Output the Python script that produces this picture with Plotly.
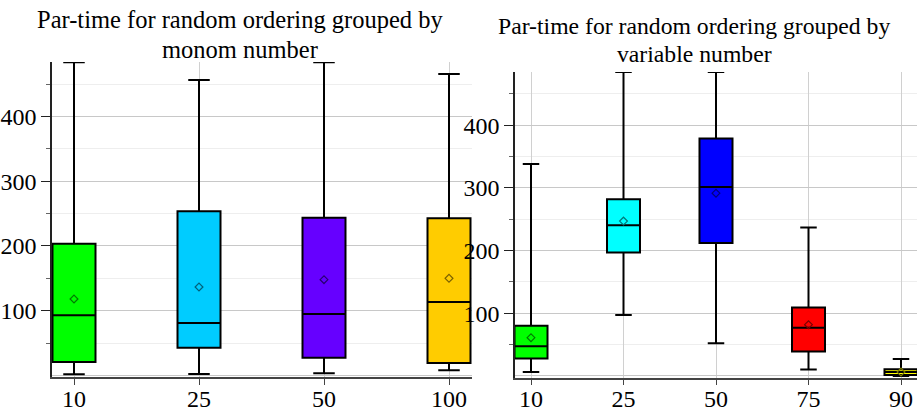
import plotly.graph_objects as go

# ---- data ----
left_cats = ["10", "25", "50", "100"]
left_lower = [1.7, 2.0, 3.2, 7.9]
left_q1 = [20.7, 42.8, 27.4, 19.2]
left_median = [92.9, 81.0, 94.9, 113.4]
left_q3 = [203.6, 253.6, 243.8, 242.8]
left_upper = [484.0, 456.6, 484.0, 465.8]
left_mean = [118.0, 136.6, 148.0, 150.0]
left_colors = ["#00ff00", "#00ccff", "#6600ff", "#ffcc00"]
left_mean_colors = ["#007a00", "#00607a", "#2a0070", "#7a6000"]

right_cats = ["10", "25", "50", "75", "90"]
right_lower = [6.2, 97.2, 52.1, 10.0, 0.0]
right_q1 = [27.6, 196.8, 212.0, 38.8, 1.4]
right_median = [47.2, 240.3, 301.6, 77.0, 6.0]
right_q3 = [80.2, 282.0, 379.0, 109.0, 10.5]
right_upper = [338.0, 485.0, 485.0, 237.0, 27.0]
right_mean = [61.0, 247.0, 291.6, 81.8, 6.0]
right_colors = ["#00ff00", "#00ffff", "#0000ff", "#ff0000", "#ffff00"]
right_mean_colors = ["#007a00", "#007a7a", "#00007a", "#7a0000", "#7a7a00"]

left_title_lines = ["Par-time for random ordering grouped by", "monom number"]
right_title_lines = ["Par-time for random ordering grouped by", "variable number"]

FONT = "Liberation Serif, Times New Roman, serif"
W, H = 917, 408

fig = go.Figure()

def add_boxes(cats, lo, q1, med, q3, up, colors, xa, ya, width):
    for i, c in enumerate(cats):
        fig.add_trace(go.Box(
            x=[c], q1=[q1[i]], median=[med[i]], q3=[q3[i]],
            lowerfence=[lo[i]], upperfence=[up[i]],
            fillcolor=colors[i], line=dict(color="black", width=2),
            whiskerwidth=0.5, width=width, boxpoints=False,
            xaxis=xa, yaxis=ya, showlegend=False, hoverinfo="skip"))

add_boxes(left_cats, left_lower, left_q1, left_median, left_q3, left_upper,
          left_colors, "x", "y", 0.344)
add_boxes(right_cats, right_lower, right_q1, right_median, right_q3, right_upper,
          right_colors, "x2", "y2", 0.357)

fig.add_trace(go.Scatter(x=left_cats, y=left_mean, mode="markers",
                         marker=dict(symbol="diamond-open", size=6,
                                     color=left_mean_colors, line=dict(width=1.2)),
                         xaxis="x", yaxis="y", showlegend=False))
fig.add_trace(go.Scatter(x=right_cats, y=right_mean, mode="markers",
                         marker=dict(symbol="diamond-open", size=6,
                                     color=right_mean_colors, line=dict(width=1.2)),
                         xaxis="x2", yaxis="y2", showlegend=False))

def xaxis_cfg(cats, rng, dom, anchor):
    return dict(type="category", categoryorder="array", categoryarray=cats,
                range=rng, domain=dom, anchor=anchor, automargin=False,
                showline=True, linecolor="#444", linewidth=1.5,
                ticks="outside", ticklen=6, tickcolor="#444",
                ticklabelstandoff=-7,
                showgrid=True, gridcolor="#d0d0d0", gridwidth=1,
                tickfont=dict(family=FONT, size=24, color="black"),
                zeroline=False, fixedrange=True)

def yaxis_cfg(rng, dom, anchor):
    return dict(range=rng, domain=dom, anchor=anchor, automargin=False,
                tickvals=[100, 200, 300, 400],
                showline=True, linecolor="#222", linewidth=1.5,
                ticks="outside", ticklen=9, tickcolor="#222",
                showgrid=True, gridcolor="#c8c8c8", gridwidth=1,
                zeroline=True, zerolinecolor="#c8c8c8", zerolinewidth=1,
                minor=dict(tickvals=[50, 150, 250, 350, 450], ticks="outside",
                           ticklen=4, tickcolor="#666", showgrid=True,
                           gridcolor="#eeeeee", gridwidth=1),
                tickfont=dict(family=FONT, size=24, color="black"),
                fixedrange=True)

def title_ann(text, xpx, top_px, size):
    return dict(text=text, x=xpx / W, y=1 - top_px / H, xref="paper", yref="paper",
                xanchor="center", yanchor="top", showarrow=False,
                font=dict(family=FONT, size=size, color="black"))

fig.update_layout(
    template="none",
    width=W, height=H,
    font=dict(family=FONT, size=24, color="black"),
    margin=dict(l=0, r=0, t=0, b=0),
    paper_bgcolor="white", plot_bgcolor="white",
    xaxis=xaxis_cfg(left_cats, [-0.176, 3.184], [52 / W, 472 / W], "y"),
    yaxis=yaxis_cfg([-2.5, 484.4], [1 - 377 / H, 1 - 62 / H], "x"),
    xaxis2=xaxis_cfg(right_cats, [-0.173, 4.173], [515 / W, 1.0], "y2"),
    yaxis2=yaxis_cfg([-2.9, 485], [1 - 377.7 / H, 1 - 72 / H], "x2"),
    annotations=[
        title_ann(left_title_lines[0], 240, 4, 24.5),
        title_ann(left_title_lines[1], 240, 34, 24.5),
        title_ann(right_title_lines[0], 694, 11, 23.7),
        title_ann(right_title_lines[1], 694, 39, 23.7),
    ],
)

fig.write_html("out.html", config={"displayModeBar": False},
               post_script="document.body.style.margin='0';document.body.style.overflow='hidden';")
